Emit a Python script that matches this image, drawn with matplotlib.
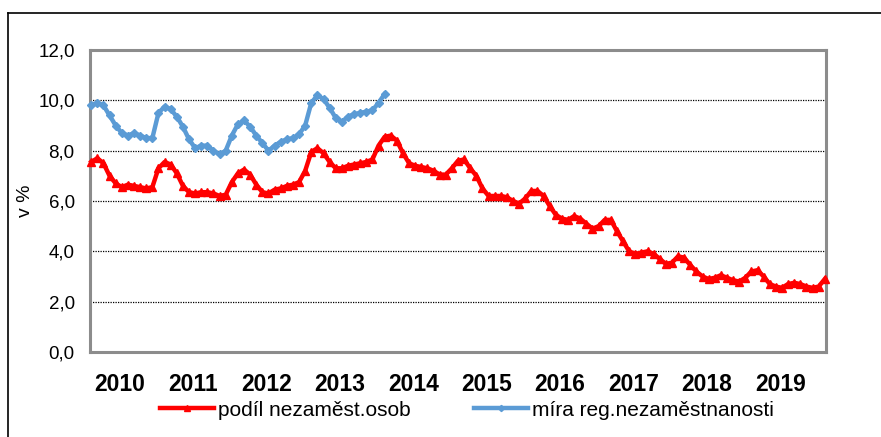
import matplotlib
matplotlib.use("Agg")
import matplotlib.pyplot as plt
from matplotlib.lines import Line2D
from matplotlib.ticker import FuncFormatter
import numpy as np

plt.rcParams['font.family'] = ['Liberation Sans', 'DejaVu Sans']

# podíl nezaměstnaných osob, měsíčně 1/2010 - 1/2020
podil = [
    7.55, 7.7, 7.5, 7.0, 6.7, 6.55, 6.65, 6.6, 6.55, 6.5, 6.55, 7.3,      # 2010
    7.55, 7.45, 7.1, 6.6, 6.35, 6.3, 6.35, 6.35, 6.3, 6.2, 6.25, 6.75,    # 2011
    7.1, 7.25, 7.05, 6.65, 6.35, 6.3, 6.45, 6.5, 6.6, 6.65, 6.75, 7.2,    # 2012
    7.95, 8.1, 7.9, 7.55, 7.3, 7.3, 7.4, 7.45, 7.5, 7.55, 7.65, 8.2,      # 2013
    8.55, 8.6, 8.4, 7.9, 7.5, 7.4, 7.35, 7.3, 7.2, 7.05, 7.05, 7.3,       # 2014
    7.6, 7.65, 7.3, 7.0, 6.5, 6.2, 6.2, 6.2, 6.15, 6.0, 5.9, 6.1,         # 2015
    6.4, 6.4, 6.2, 5.8, 5.45, 5.3, 5.25, 5.4, 5.3, 5.1, 4.9, 5.0,         # 2016
    5.25, 5.25, 4.8, 4.4, 4.0, 3.9, 3.95, 4.0, 3.9, 3.7, 3.5, 3.55,       # 2017
    3.8, 3.75, 3.45, 3.2, 3.0, 2.9, 2.95, 3.05, 2.95, 2.85, 2.8, 2.95,    # 2018
    3.2, 3.25, 3.0, 2.7, 2.6, 2.55, 2.7, 2.75, 2.7, 2.6, 2.55, 2.6,       # 2019
    2.9,                                                                  # 2020
]

# míra registrované nezaměstnanosti, 1/2010 - 1/2014
mira = [
    9.8, 9.9, 9.8, 9.4, 9.0, 8.7, 8.6, 8.7, 8.6, 8.5, 8.5, 9.5,           # 2010
    9.75, 9.65, 9.35, 8.95, 8.45, 8.1, 8.2, 8.2, 8.0, 7.85, 8.0, 8.6,     # 2011
    9.05, 9.2, 8.95, 8.6, 8.3, 8.0, 8.2, 8.35, 8.45, 8.5, 8.65, 9.0,      # 2012
    9.9, 10.2, 10.05, 9.7, 9.3, 9.15, 9.35, 9.45, 9.5, 9.55, 9.6, 9.9,    # 2013
    10.25,                                                                # 2014
]

roky = ['2010', '2011', '2012', '2013', '2014', '2015', '2016', '2017', '2018', '2019']

fig = plt.figure(figsize=(8.81, 4.37), dpi=100)
ax = fig.add_axes([90 / 881, 1 - 352 / 437, 736 / 881, 302 / 437])

x_podil = np.arange(len(podil))
x_mira = np.arange(len(mira))

ax.plot(x_podil, podil, color='#ff0000', lw=3.2, marker='^', ms=6,
        label='podíl nezaměst.osob', zorder=3, clip_on=False)
ax.plot(x_mira, mira, color='#5b9bd5', lw=3.2, marker='D', ms=4.5,
        label='míra reg.nezaměstnanosti', zorder=4, clip_on=False)

ax.set_xlim(-0.2, 120.2)
ax.set_ylim(0, 12)
ax.set_yticks(np.arange(0, 12.1, 2))
ax.yaxis.set_major_formatter(FuncFormatter(lambda v, p: f'{v:.1f}'.replace('.', ',')))
ax.set_xticks([12 * k + 4.7 for k in range(len(roky))])
ax.set_xticklabels(roky, fontsize=16.5, fontweight='bold')
ax.tick_params(axis='x', length=0, pad=15)
ax.tick_params(axis='y', length=0, pad=11, labelsize=13.5)

ax.grid(axis='y', color='black', linestyle=(0, (1, 1)), lw=0.9)
ax.set_axisbelow(True)
for s in ax.spines.values():
    s.set_color('#8c8c8c')
    s.set_linewidth(2.2)

ax.set_ylabel('v %', fontsize=14)
ax.yaxis.set_label_coords((34 - 90) / 736, 0.5)

fig.legend(loc='center', bbox_to_anchor=(467 / 881, 1 - 410 / 437), ncol=2,
           frameon=False, fontsize=15, handlelength=2.6, handletextpad=0.2,
           columnspacing=3.0, numpoints=1, markerscale=0.7)

# vnější rámeček grafu
fig.add_artist(Line2D([8 / 881, 8 / 881], [0, 1 - 13 / 437], color='black', lw=1.2,
                      transform=fig.transFigure))
fig.add_artist(Line2D([8 / 881, 1], [1 - 13 / 437, 1 - 13 / 437], color='black', lw=1.2,
                      transform=fig.transFigure))

fig.savefig('out.png', dpi=100)
